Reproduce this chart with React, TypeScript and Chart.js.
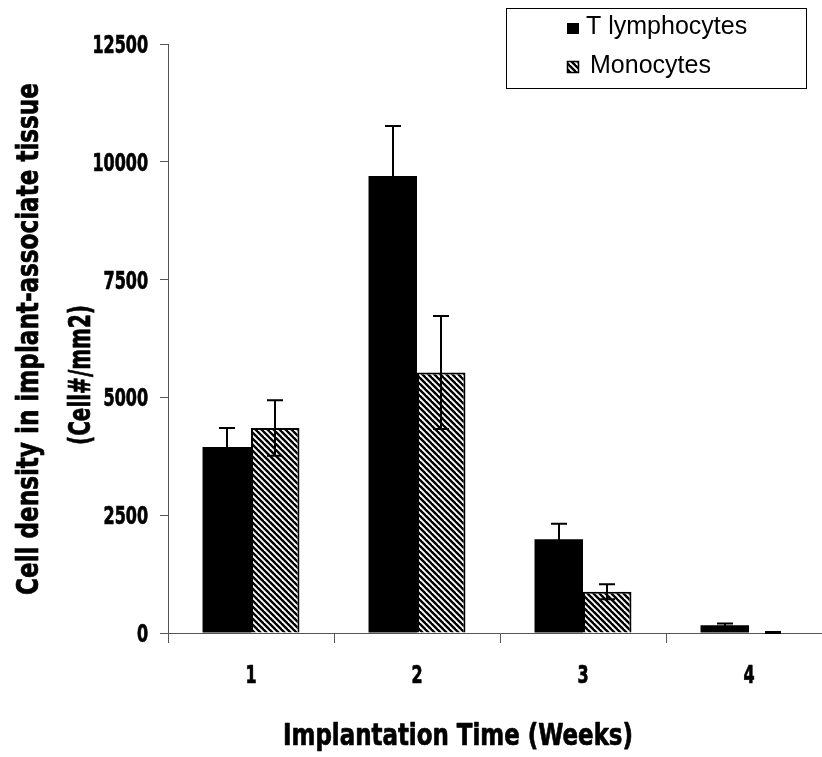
import { useEffect, useRef } from "react";
import { Chart, registerables } from "chart.js";

Chart.register(...registerables);

// Weeks after implantation
const weeks = ["1", "2", "3", "4"];

// Mean cell density (cells / mm2) and its error
const tLymphocytes = [3950, 9700, 1990, 165];
const tLymphocyteErr = [400, 1060, 330, 35];
const monocytes = [4350, 5530, 875, 8];
const monocyteErr = [590, 1200, 160, 12];

const yTicks = [0, 2500, 5000, 7500, 10000, 12500];

const seriesNames = ["T lymphocytes", "Monocytes"];
const xTitle = "Implantation Time (Weeks)";
const yTitleLines = ["Cell density in implant-associate tissue", "(Cell#/mm2)"];

const CONDENSED =
  '"Liberation Sans Narrow", "DejaVu Sans Condensed", "Arial Narrow", sans-serif';
const SANS = '"Liberation Sans", Arial, sans-serif';
const AXIS_GREY = "#555";
const TICK_FONT = `bold 24px ${CONDENSED}`;
const TICK_SQUEEZE = 0.74;

// Black/white diagonal stripes used for the monocyte bars
function makeHatch(): CanvasPattern | string {
  const c = document.createElement("canvas");
  c.width = 6;
  c.height = 6;
  const g = c.getContext("2d");
  if (!g) return "#888";
  g.fillStyle = "#fff";
  g.fillRect(0, 0, 6, 6);
  g.strokeStyle = "#000";
  g.lineWidth = 2.4;
  for (const x0 of [-6, 0, 6]) {
    g.beginPath();
    g.moveTo(x0 - 1, -1);
    g.lineTo(x0 + 7, 7);
    g.stroke();
  }
  return g.createPattern(c, "repeat") || "#888";
}

// Heavy, horizontally squeezed text (poster-style labels)
function drawSqueezed(
  ctx: CanvasRenderingContext2D,
  text: string,
  x: number,
  y: number,
  sx: number,
  font: string,
  align: CanvasTextAlign,
  rotate = false
) {
  ctx.save();
  ctx.font = font;
  ctx.fillStyle = "#000";
  ctx.strokeStyle = "#000";
  ctx.lineWidth = 0.7;
  ctx.lineJoin = "round";
  ctx.textAlign = align;
  ctx.textBaseline = "alphabetic";
  ctx.translate(x, y);
  if (rotate) ctx.rotate(-Math.PI / 2);
  ctx.scale(sx, 1);
  ctx.fillText(text, 0, 0);
  ctx.strokeText(text, 0, 0);
  ctx.restore();
}

// Same, but scaled so the text spans exactly `width` pixels
function drawFitted(
  ctx: CanvasRenderingContext2D,
  text: string,
  x: number,
  y: number,
  width: number,
  font: string,
  rotate: boolean
) {
  ctx.save();
  ctx.font = font;
  const w = ctx.measureText(text).width || 1;
  ctx.restore();
  drawSqueezed(ctx, text, x, y, width / w, font, "center", rotate);
}

const errorBars = {
  id: "errorBars",
  afterDatasetsDraw(chart: any) {
    const ctx: CanvasRenderingContext2D = chart.ctx;
    const y = chart.scales.y;
    chart.data.datasets.forEach((ds: any, di: number) => {
      const meta = chart.getDatasetMeta(di);
      meta.data.forEach((bar: any, i: number) => {
        const v = ds.data[i] as number;
        const e = ds.errors[i] as number;
        const top = y.getPixelForValue(v + e);
        const bot = y.getPixelForValue(Math.max(0, v - e));
        const x = Math.round(bar.x);
        const cap = 8;
        ctx.save();
        ctx.strokeStyle = "#000";
        ctx.lineWidth = 2;
        ctx.beginPath();
        ctx.moveTo(x, top);
        ctx.lineTo(x, bot);
        ctx.moveTo(x - cap, top);
        ctx.lineTo(x + cap, top);
        ctx.moveTo(x - cap, bot);
        ctx.lineTo(x + cap, bot);
        ctx.stroke();
        ctx.restore();
      });
    });
  },
};

const decorations = {
  id: "decorations",
  afterDraw(chart: any) {
    const ctx: CanvasRenderingContext2D = chart.ctx;
    const hatch = chart.data.datasets[1].backgroundColor;
    const xs = chart.scales.x;
    const ys = chart.scales.y;

    // Tick labels, placed from the library's scales
    ys.ticks.forEach((t: any) => {
      const py = ys.getPixelForValue(t.value);
      drawSqueezed(ctx, String(t.value), 148, py + 9, TICK_SQUEEZE, TICK_FONT, "right");
    });
    xs.ticks.forEach((_t: any, i: number) => {
      const px = xs.getPixelForValue(i);
      drawSqueezed(ctx, String(chart.data.labels[i]), px, 683, TICK_SQUEEZE, TICK_FONT, "center");
    });

    // Axis titles
    drawFitted(ctx, yTitleLines[0], 38, 339, 512, `bold 30px ${CONDENSED}`, true);
    drawFitted(ctx, yTitleLines[1], 90, 375, 140, `bold 30px ${CONDENSED}`, true);
    drawFitted(ctx, xTitle, 458, 745, 350, `bold 31px ${CONDENSED}`, false);

    // Legend box
    ctx.save();
    ctx.fillStyle = "#fff";
    ctx.fillRect(506.5, 8.5, 300, 80);
    ctx.strokeStyle = "#000";
    ctx.lineWidth = 1;
    ctx.strokeRect(506.5, 8.5, 300, 80);

    ctx.fillStyle = "#000";
    ctx.fillRect(567, 23, 12, 11);
    ctx.fillStyle = hatch;
    ctx.fillRect(567, 61, 12, 12);
    ctx.lineWidth = 1.5;
    ctx.strokeRect(567.5, 61.5, 11, 11);

    ctx.fillStyle = "#000";
    ctx.font = `25px ${SANS}`;
    ctx.textAlign = "left";
    ctx.textBaseline = "alphabetic";
    ctx.fillText(seriesNames[0], 586, 34);
    ctx.fillText(seriesNames[1], 590, 73);
    ctx.restore();
  },
};

export default function App() {
  const canvasRef = useRef<HTMLCanvasElement | null>(null);

  useEffect(() => {
    const canvas = canvasRef.current;
    if (!canvas) return;
    const hatch = makeHatch();

    const chart = new Chart(canvas, {
      type: "bar",
      data: {
        labels: weeks,
        datasets: [
          {
            label: seriesNames[0],
            data: tLymphocytes,
            errors: tLymphocyteErr,
            backgroundColor: "#000",
            borderColor: "#000",
            borderWidth: 0,
            barPercentage: 1,
            categoryPercentage: 0.584,
          } as any,
          {
            label: seriesNames[1],
            data: monocytes,
            errors: monocyteErr,
            backgroundColor: hatch,
            borderColor: "#000",
            borderWidth: 2,
            barPercentage: 1,
            categoryPercentage: 0.584,
          } as any,
        ],
      },
      options: {
        responsive: false,
        animation: false,
        layout: { padding: { top: 44, right: 8, left: 0, bottom: 0 } },
        plugins: {
          legend: { display: false },
          tooltip: { enabled: false },
          title: { display: false },
        },
        scales: {
          x: {
            type: "category",
            offset: true,
            grid: {
              offset: true,
              drawOnChartArea: false,
              drawTicks: true,
              tickLength: 10,
              color: AXIS_GREY,
              lineWidth: 1,
            },
            border: { color: AXIS_GREY, width: 1 },
            ticks: { display: false },
            afterFit(s: any) {
              s.height = 124;
            },
          },
          y: {
            min: 0,
            max: 12500,
            afterBuildTicks(s: any) {
              s.ticks = yTicks.map((v) => ({ value: v }));
            },
            grid: {
              drawOnChartArea: false,
              drawTicks: true,
              tickLength: 8,
              color: AXIS_GREY,
              lineWidth: 1,
            },
            border: { color: AXIS_GREY, width: 1 },
            ticks: { display: false },
            afterFit(s: any) {
              s.width = 168;
            },
          },
        },
      },
      plugins: [errorBars, decorations],
    });

    return () => chart.destroy();
  }, []);

  return (
    <div
      style={{
        position: "fixed",
        left: 0,
        top: 0,
        width: 822,
        height: 757,
        overflow: "hidden",
        background: "#fff",
      }}
    >
      <canvas ref={canvasRef} width={840} height={757} style={{ display: "block" }} />
    </div>
  );
}
